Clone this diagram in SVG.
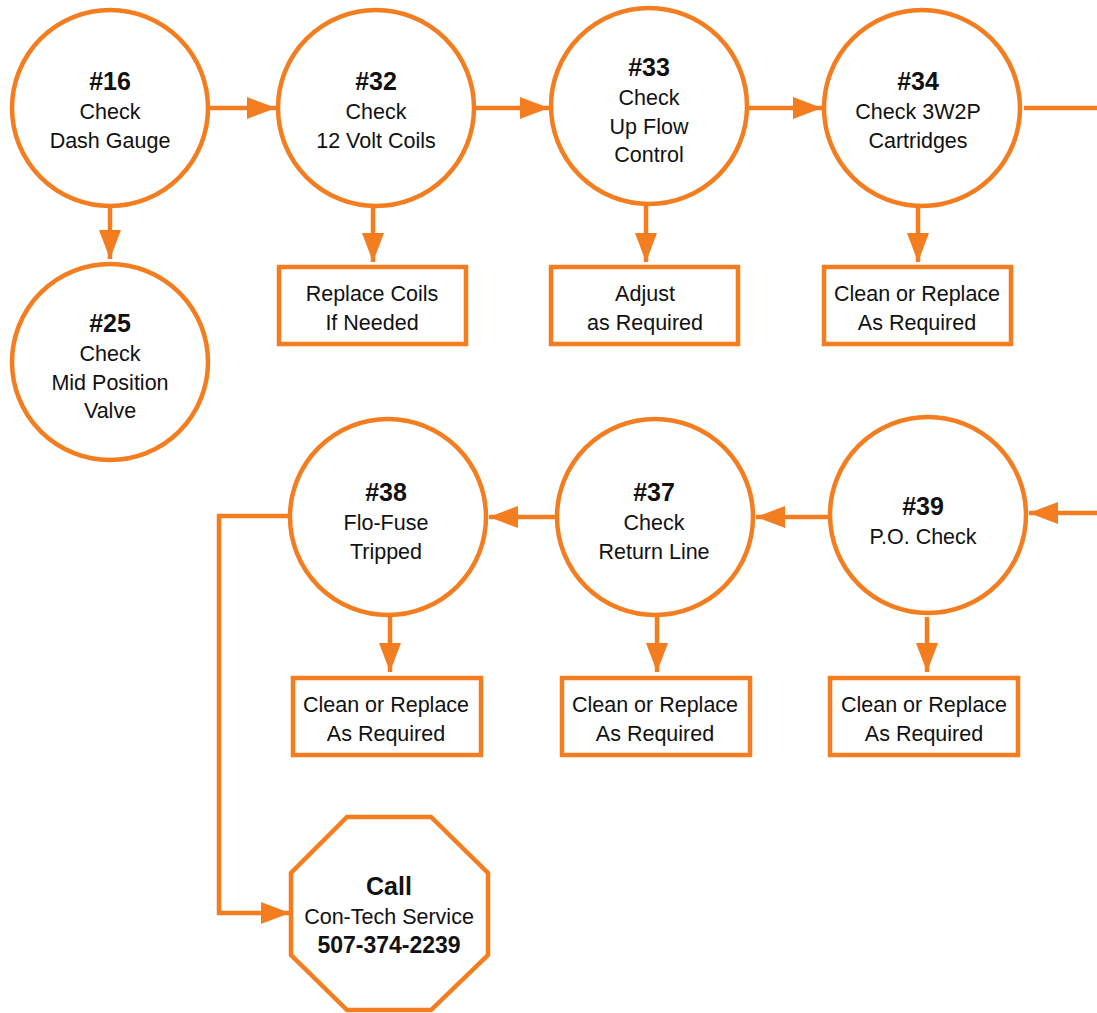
<svg xmlns="http://www.w3.org/2000/svg" width="1097" height="1013" viewBox="0 0 1097 1013">
<defs>
<style>
.n{fill:#fff;stroke:#F47D20;stroke-width:4.5}
.c{fill:none;stroke:#F47D20;stroke-width:4.5}
.t{font-family:"Liberation Sans",Arial,sans-serif;font-size:21.5px;fill:#111;text-anchor:middle}
.b{font-weight:bold;font-size:25px}
</style>
<marker id="ah" markerWidth="30" markerHeight="22" refX="29" refY="11" orient="auto" markerUnits="userSpaceOnUse">
<path d="M0,0 L29,11 L0,22 Z" fill="#F47D20"/>
</marker>
</defs>
<g id="connectors">
<line class="c" x1="210" y1="108" x2="276" y2="108" marker-end="url(#ah)"/>
<line class="c" x1="476" y1="108" x2="549" y2="108" marker-end="url(#ah)"/>
<line class="c" x1="749" y1="108" x2="822" y2="108" marker-end="url(#ah)"/>
<line class="c" x1="1024" y1="108" x2="1097" y2="108"/>
<line class="c" x1="110" y1="207" x2="110" y2="259" marker-end="url(#ah)"/>
<line class="c" x1="373" y1="207" x2="373" y2="262" marker-end="url(#ah)"/>
<line class="c" x1="646" y1="205" x2="646" y2="262" marker-end="url(#ah)"/>
<line class="c" x1="918" y1="207" x2="918" y2="262" marker-end="url(#ah)"/>
<line class="c" x1="1097" y1="513" x2="1029" y2="513" marker-end="url(#ah)"/>
<line class="c" x1="828" y1="517" x2="756" y2="517" marker-end="url(#ah)"/>
<line class="c" x1="555" y1="517" x2="489" y2="517" marker-end="url(#ah)"/>
<line class="c" x1="390" y1="617" x2="390" y2="672" marker-end="url(#ah)"/>
<line class="c" x1="657" y1="617" x2="657" y2="672" marker-end="url(#ah)"/>
<line class="c" x1="927" y1="617" x2="927" y2="672" marker-end="url(#ah)"/>
<polyline class="c" points="288,516 219,516 219,913 290,913" marker-end="url(#ah)"/>
</g>
<g id="n16"><circle class="n" cx="110" cy="108" r="98"/>
<text class="t" x="110" y="90"><tspan class="b">#16</tspan><tspan x="110" y="119">Check</tspan><tspan x="110" y="148">Dash Gauge</tspan></text></g>
<g id="n32"><circle class="n" cx="376" cy="108" r="98"/>
<text class="t" x="376" y="90"><tspan class="b">#32</tspan><tspan x="376" y="119">Check</tspan><tspan x="376" y="148">12 Volt Coils</tspan></text></g>
<g id="n33"><circle class="n" cx="649" cy="106" r="98"/>
<text class="t" x="649" y="76"><tspan class="b">#33</tspan><tspan x="649" y="105">Check</tspan><tspan x="649" y="134">Up Flow</tspan><tspan x="649" y="162">Control</tspan></text></g>
<g id="n34"><circle class="n" cx="922" cy="108" r="98"/>
<text class="t" x="918" y="90"><tspan class="b">#34</tspan><tspan x="918" y="119">Check 3W2P</tspan><tspan x="918" y="148">Cartridges</tspan></text></g>
<g id="n25"><circle class="n" cx="110" cy="362" r="98"/>
<text class="t" x="110" y="332"><tspan class="b">#25</tspan><tspan x="110" y="361">Check</tspan><tspan x="110" y="390">Mid Position</tspan><tspan x="110" y="418">Valve</tspan></text></g>
<g id="b32"><rect class="n" x="279" y="267" width="187" height="77"/>
<text class="t" x="372" y="301">Replace Coils<tspan x="372" y="330">If Needed</tspan></text></g>
<g id="b33"><rect class="n" x="551" y="267" width="187" height="77"/>
<text class="t" x="645" y="301">Adjust<tspan x="645" y="330">as Required</tspan></text></g>
<g id="b34"><rect class="n" x="824" y="267" width="187" height="77"/>
<text class="t" x="917" y="301">Clean or Replace<tspan x="917" y="330">As Required</tspan></text></g>
<g id="n38"><circle class="n" cx="388" cy="517" r="98"/>
<text class="t" x="386" y="501"><tspan class="b">#38</tspan><tspan x="386" y="530">Flo-Fuse</tspan><tspan x="386" y="559">Tripped</tspan></text></g>
<g id="n37"><circle class="n" cx="655" cy="517" r="98"/>
<text class="t" x="654" y="501"><tspan class="b">#37</tspan><tspan x="654" y="530">Check</tspan><tspan x="654" y="559">Return Line</tspan></text></g>
<g id="n39"><circle class="n" cx="928" cy="515" r="98"/>
<text class="t" x="923" y="515"><tspan class="b">#39</tspan><tspan x="923" y="544">P.O. Check</tspan></text></g>
<g id="b38"><rect class="n" x="293" y="678" width="188" height="77"/>
<text class="t" x="386" y="712">Clean or Replace<tspan x="386" y="741">As Required</tspan></text></g>
<g id="b37"><rect class="n" x="562" y="678" width="188" height="77"/>
<text class="t" x="655" y="712">Clean or Replace<tspan x="655" y="741">As Required</tspan></text></g>
<g id="b39"><rect class="n" x="830" y="678" width="188" height="77"/>
<text class="t" x="924" y="712">Clean or Replace<tspan x="924" y="741">As Required</tspan></text></g>
<g id="call"><polygon class="n" points="347,817 431,817 488,873 488,955 431,1010 347,1010 291,955 291,873"/>
<text class="t" x="389" y="895"><tspan class="b">Call</tspan><tspan x="389" y="924">Con-Tech Service</tspan><tspan x="389" y="953" font-weight="bold" font-size="23">507-374-2239</tspan></text></g>
</svg>
